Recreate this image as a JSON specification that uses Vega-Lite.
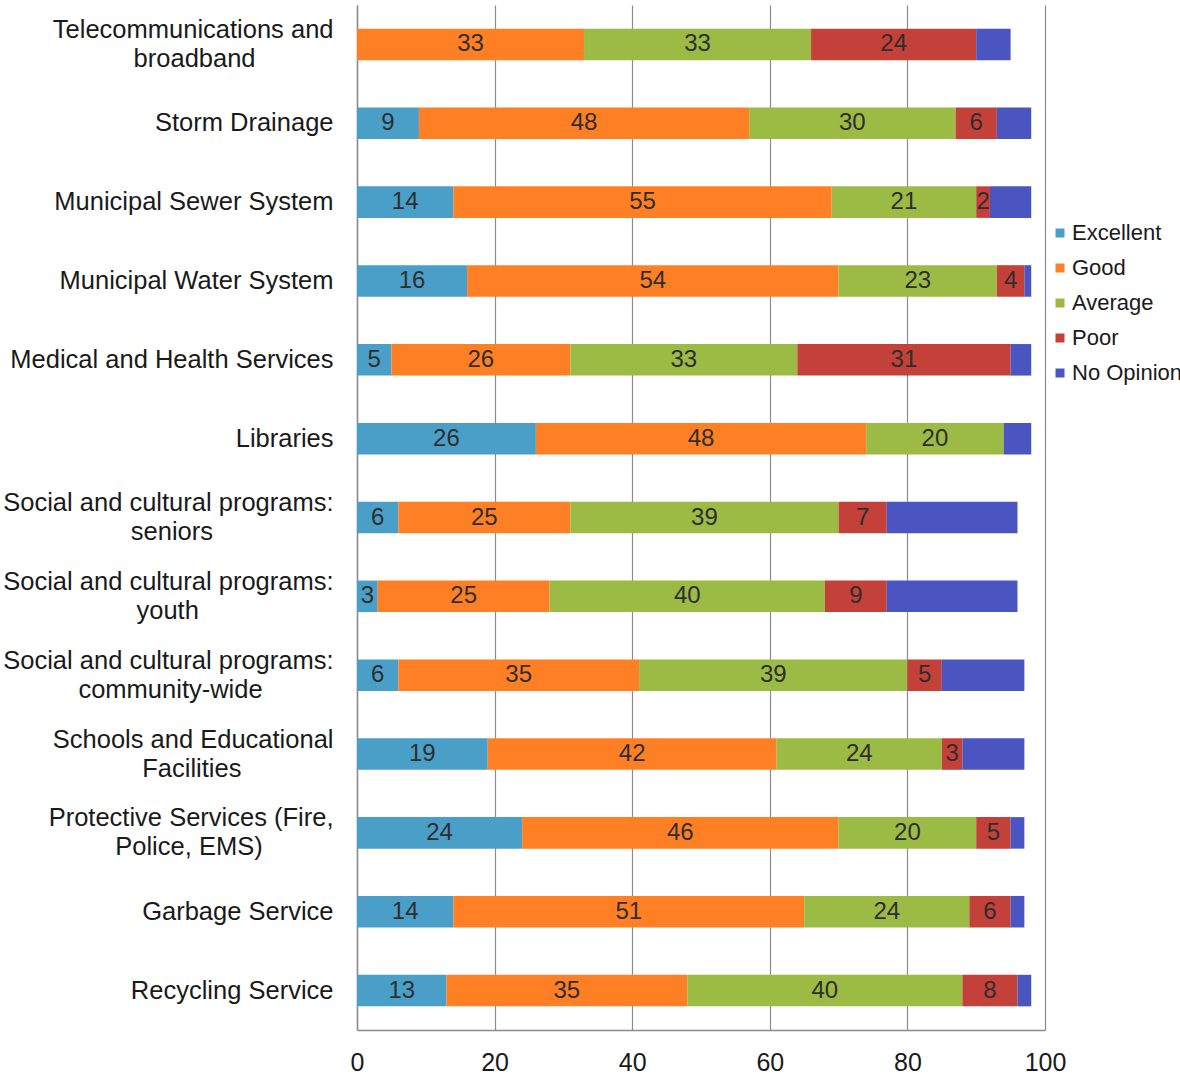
{
  "$schema": "https://vega.github.io/schema/vega-lite/v6.json",
  "width": 688,
  "height": 1025,
  "autosize": "none",
  "padding": {"left": 357, "top": 5, "right": 135, "bottom": 48},
  "background": "white",
  "config": {
    "font": "Liberation Sans",
    "view": {"stroke": null}
  },
  "data": {
    "values": [
      {"service": "Telecommunications and\nbroadband", "rating": "Excellent", "rank": 1, "pct": 0},
      {"service": "Telecommunications and\nbroadband", "rating": "Good", "rank": 2, "pct": 33},
      {"service": "Telecommunications and\nbroadband", "rating": "Average", "rank": 3, "pct": 33},
      {"service": "Telecommunications and\nbroadband", "rating": "Poor", "rank": 4, "pct": 24},
      {"service": "Telecommunications and\nbroadband", "rating": "No Opinion", "rank": 5, "pct": 5},
      {"service": "Storm Drainage", "rating": "Excellent", "rank": 1, "pct": 9},
      {"service": "Storm Drainage", "rating": "Good", "rank": 2, "pct": 48},
      {"service": "Storm Drainage", "rating": "Average", "rank": 3, "pct": 30},
      {"service": "Storm Drainage", "rating": "Poor", "rank": 4, "pct": 6},
      {"service": "Storm Drainage", "rating": "No Opinion", "rank": 5, "pct": 5},
      {"service": "Municipal Sewer System", "rating": "Excellent", "rank": 1, "pct": 14},
      {"service": "Municipal Sewer System", "rating": "Good", "rank": 2, "pct": 55},
      {"service": "Municipal Sewer System", "rating": "Average", "rank": 3, "pct": 21},
      {"service": "Municipal Sewer System", "rating": "Poor", "rank": 4, "pct": 2},
      {"service": "Municipal Sewer System", "rating": "No Opinion", "rank": 5, "pct": 6},
      {"service": "Municipal Water System", "rating": "Excellent", "rank": 1, "pct": 16},
      {"service": "Municipal Water System", "rating": "Good", "rank": 2, "pct": 54},
      {"service": "Municipal Water System", "rating": "Average", "rank": 3, "pct": 23},
      {"service": "Municipal Water System", "rating": "Poor", "rank": 4, "pct": 4},
      {"service": "Municipal Water System", "rating": "No Opinion", "rank": 5, "pct": 1},
      {"service": "Medical and Health Services", "rating": "Excellent", "rank": 1, "pct": 5},
      {"service": "Medical and Health Services", "rating": "Good", "rank": 2, "pct": 26},
      {"service": "Medical and Health Services", "rating": "Average", "rank": 3, "pct": 33},
      {"service": "Medical and Health Services", "rating": "Poor", "rank": 4, "pct": 31},
      {"service": "Medical and Health Services", "rating": "No Opinion", "rank": 5, "pct": 3},
      {"service": "Libraries", "rating": "Excellent", "rank": 1, "pct": 26},
      {"service": "Libraries", "rating": "Good", "rank": 2, "pct": 48},
      {"service": "Libraries", "rating": "Average", "rank": 3, "pct": 20},
      {"service": "Libraries", "rating": "Poor", "rank": 4, "pct": 0},
      {"service": "Libraries", "rating": "No Opinion", "rank": 5, "pct": 4},
      {"service": "Social and cultural programs:\nseniors", "rating": "Excellent", "rank": 1, "pct": 6},
      {"service": "Social and cultural programs:\nseniors", "rating": "Good", "rank": 2, "pct": 25},
      {"service": "Social and cultural programs:\nseniors", "rating": "Average", "rank": 3, "pct": 39},
      {"service": "Social and cultural programs:\nseniors", "rating": "Poor", "rank": 4, "pct": 7},
      {"service": "Social and cultural programs:\nseniors", "rating": "No Opinion", "rank": 5, "pct": 19},
      {"service": "Social and cultural programs:\nyouth", "rating": "Excellent", "rank": 1, "pct": 3},
      {"service": "Social and cultural programs:\nyouth", "rating": "Good", "rank": 2, "pct": 25},
      {"service": "Social and cultural programs:\nyouth", "rating": "Average", "rank": 3, "pct": 40},
      {"service": "Social and cultural programs:\nyouth", "rating": "Poor", "rank": 4, "pct": 9},
      {"service": "Social and cultural programs:\nyouth", "rating": "No Opinion", "rank": 5, "pct": 19},
      {"service": "Social and cultural programs:\ncommunity-wide", "rating": "Excellent", "rank": 1, "pct": 6},
      {"service": "Social and cultural programs:\ncommunity-wide", "rating": "Good", "rank": 2, "pct": 35},
      {"service": "Social and cultural programs:\ncommunity-wide", "rating": "Average", "rank": 3, "pct": 39},
      {"service": "Social and cultural programs:\ncommunity-wide", "rating": "Poor", "rank": 4, "pct": 5},
      {"service": "Social and cultural programs:\ncommunity-wide", "rating": "No Opinion", "rank": 5, "pct": 12},
      {"service": "Schools and Educational\nFacilities", "rating": "Excellent", "rank": 1, "pct": 19},
      {"service": "Schools and Educational\nFacilities", "rating": "Good", "rank": 2, "pct": 42},
      {"service": "Schools and Educational\nFacilities", "rating": "Average", "rank": 3, "pct": 24},
      {"service": "Schools and Educational\nFacilities", "rating": "Poor", "rank": 4, "pct": 3},
      {"service": "Schools and Educational\nFacilities", "rating": "No Opinion", "rank": 5, "pct": 9},
      {"service": "Protective Services (Fire,\nPolice, EMS)", "rating": "Excellent", "rank": 1, "pct": 24},
      {"service": "Protective Services (Fire,\nPolice, EMS)", "rating": "Good", "rank": 2, "pct": 46},
      {"service": "Protective Services (Fire,\nPolice, EMS)", "rating": "Average", "rank": 3, "pct": 20},
      {"service": "Protective Services (Fire,\nPolice, EMS)", "rating": "Poor", "rank": 4, "pct": 5},
      {"service": "Protective Services (Fire,\nPolice, EMS)", "rating": "No Opinion", "rank": 5, "pct": 2},
      {"service": "Garbage Service", "rating": "Excellent", "rank": 1, "pct": 14},
      {"service": "Garbage Service", "rating": "Good", "rank": 2, "pct": 51},
      {"service": "Garbage Service", "rating": "Average", "rank": 3, "pct": 24},
      {"service": "Garbage Service", "rating": "Poor", "rank": 4, "pct": 6},
      {"service": "Garbage Service", "rating": "No Opinion", "rank": 5, "pct": 2},
      {"service": "Recycling Service", "rating": "Excellent", "rank": 1, "pct": 13},
      {"service": "Recycling Service", "rating": "Good", "rank": 2, "pct": 35},
      {"service": "Recycling Service", "rating": "Average", "rank": 3, "pct": 40},
      {"service": "Recycling Service", "rating": "Poor", "rank": 4, "pct": 8},
      {"service": "Recycling Service", "rating": "No Opinion", "rank": 5, "pct": 2}
    ]
  },
  "transform": [
    {"stack": "pct", "groupby": ["service"], "sort": [{"field": "rank", "order": "ascending"}], "as": ["v0", "v1"]}
  ],
  "encoding": {
    "y": {
      "field": "service",
      "type": "nominal",
      "sort": null,
      "scale": {"paddingInner": 0.6, "paddingOuter": 0.3},
      "axis": {
        "title": null,
        "labelExpr": "length(split(datum.label, '\\n')) > 1 ? [split(datum.label, '\\n')[0], split(datum.label, '\\n')[1] + pad('', split(datum.label, '\\n')[1] == 'broadband' ? 11 : split(datum.label, '\\n')[1] == 'seniors' ? 17 : split(datum.label, '\\n')[1] == 'youth' ? 19 : split(datum.label, '\\n')[1] == 'community-wide' ? 10 : split(datum.label, '\\n')[1] == 'Facilities' ? 13 : 10, '\u00a0') + '\u200b'] : datum.label",
        "labelFontSize": 25.5,
        "labelColor": "#1a1a1a",
        "labelLineHeight": 29,
        "labelPadding": 24,
        "labelLimit": 400,
        "labelOffset": {"condition": {"test": "indexof(datum.value, '\\n') >= 0", "value": -14.5}, "value": 0},
        "ticks": false,
        "domainColor": "#8c8c8c",
        "domainWidth": 1.5,
        "grid": false
      }
    }
  },
  "layer": [
    {
      "mark": {"type": "bar"},
      "encoding": {
        "x": {
          "field": "v0",
          "type": "quantitative",
          "scale": {"domain": [0, 100], "nice": false},
          "axis": {
            "title": null,
            "values": [0, 20, 40, 60, 80, 100],
            "labelFontSize": 25,
            "labelColor": "#1a1a1a",
            "labelPadding": 20,
            "labelFlush": false,
            "labelOverlap": false,
            "ticks": false,
            "grid": true,
            "gridColor": "#8c8c8c",
            "gridWidth": 1.2,
            "domainColor": "#8c8c8c",
            "domainWidth": 1.5
          }
        },
        "x2": {"field": "v1"},
        "color": {
          "field": "rating",
          "type": "nominal",
          "scale": {
            "domain": ["Excellent", "Good", "Average", "Poor", "No Opinion"],
            "range": ["#4a9fc8", "#ff7f24", "#9bbb45", "#c4413a", "#4a55c2"]
          },
          "legend": {
            "title": null,
            "orient": "none",
            "legendX": 692,
            "legendY": 217,
            "padding": 0,
            "symbolType": "square",
            "symbolSize": 81,
            "symbolStrokeWidth": 0,
            "labelFontSize": 22,
            "labelColor": "#1a1a1a",
            "labelOffset": 1,
            "rowPadding": 13,
            "labelLimit": 200
          }
        }
      }
    },
    {
      "transform": [
        {"filter": "datum.pct > 0 && datum.rating != 'No Opinion'"},
        {"fold": ["v0", "v1"], "as": ["edge", "pos"]},
        {"aggregate": [{"op": "mean", "field": "pos", "as": "mid"}], "groupby": ["service", "rating", "pct"]}
      ],
      "mark": {"type": "text", "fontSize": 24, "color": "#2e2e2e", "baseline": "middle", "align": "center"},
      "encoding": {
        "x": {"field": "mid", "type": "quantitative"},
        "text": {"field": "pct", "type": "quantitative"}
      }
    }
  ]
}
